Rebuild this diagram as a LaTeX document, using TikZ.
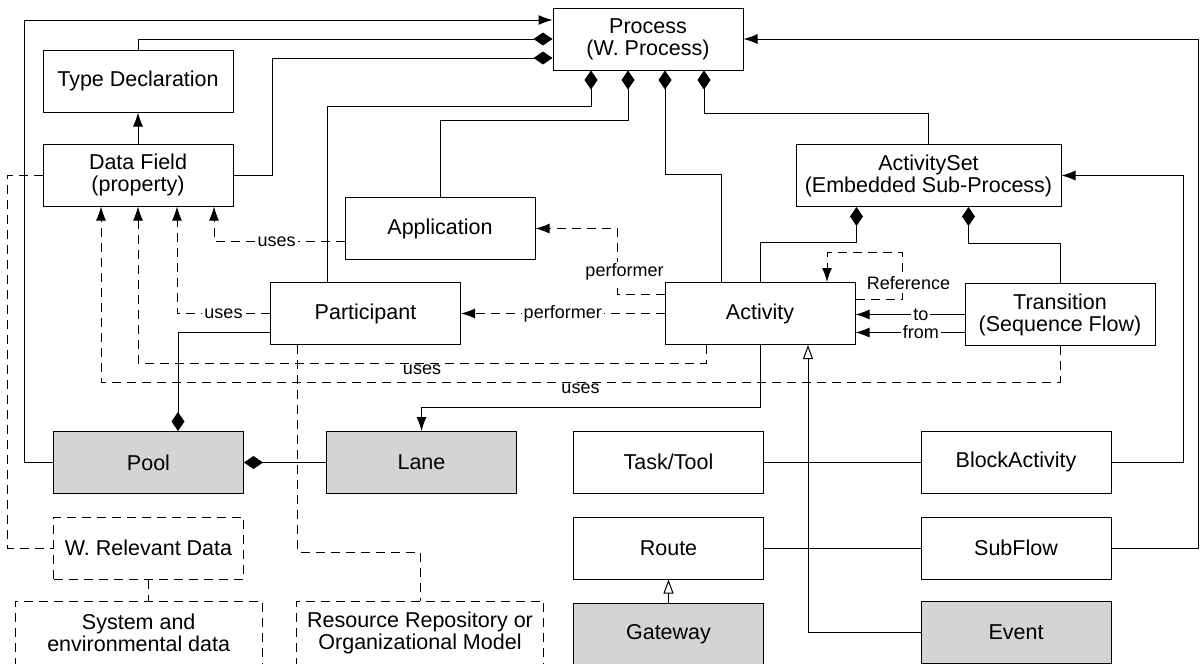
\documentclass[tikz,border=0pt]{standalone}
\usepackage{fontspec}
\setmainfont{Liberation Sans}
\usetikzlibrary{arrows.meta}
\tikzset{>={Latex[length=14pt,width=10pt]}}
\definecolor{shade}{gray}{0.83}

\begin{document}
\begin{tikzpicture}[x=1pt,y=-1pt,line width=1pt,
  box/.style={draw,minimum width=190pt,minimum height=62pt,inner sep=0pt,align=center,font=\fontsize{21.5}{22}\selectfont},
  grey/.style={box,fill=shade},
  dashline/.style={dash pattern=on 9pt off 6pt},
  ghost/.style={box,dashline},
  comp/.style={-{Diamond[length=19pt,width=13pt]}},
  gen/.style={-{Triangle[open,length=14pt,width=10pt]}},
  uses/.style={dashline,->},
  lab/.style={font=\fontsize{18}{19}\selectfont,fill=white,inner sep=2pt}]
  \useasboundingbox (0,0) rectangle (1203,664);
  \clip (0,0) rectangle (1203,664);

  \node[box] (proc) at (648,39) {Process\\(W. Process)};
  \node[box] (typ) at (138,81) {Type Declaration};
  \node[box] (df) at (138,175) {Data Field\\(property)};
  \node[box] (app) at (440,228.5) {Application};
  \node[box] (part) at (365.5,313.5) {Participant};
  \node[box] (act) at (760,313.5) {Activity};
  \node[box,minimum width=265pt] (aset) at (928.5,175.5) {ActivitySet\\(Embedded Sub-Process)};
  \node[box] (trans) at (1060,314.5) {Transition\\(Sequence Flow)};
  \node[grey] (pool) at (148.5,462.5) {Pool};
  \node[grey] (lane) at (421.5,462.5) {Lane};
  \node[box] (task) at (668.5,462) {Task/Tool};
  \node[box] (block) at (1016,462) {BlockActivity};
  \node[box] (route) at (668.5,548) {Route};
  \node[box] (sub) at (1016,548) {SubFlow};
  \node[grey] (gate) at (668.5,634) {Gateway};
  \node[grey] (event) at (1016,632) {Event};
  \node[ghost] (wrd) at (148.5,548) {W. Relevant Data};
  \node[ghost,minimum width=247pt,minimum height=64pt] (sys) at (138.7,633) {System and\\environmental data};
  \node[ghost,minimum width=247pt,minimum height=64pt] (res) at (420,633) {Resource Repository or\\Organizational Model};

  \draw[->] (pool.west) -- ++(-29,0) |- ([yshift=19pt]proc.west);
  \draw[comp] (typ.north) |- (proc.west);
  \draw[comp] (df.east) -- ++(39,0) |- ([yshift=-19pt]proc.west);
  \draw[->] (df) -- (typ);
  \draw[comp] ([xshift=-38pt]part.north) -- ++(0,-176) -| ([xshift=-57pt]proc.south);
  \draw[comp] (app.north) -- ++(0,-77) -| ([xshift=-20pt]proc.south);
  \draw[comp] ([xshift=-39pt]act.north) -- ++(0,-108) -| ([xshift=17pt]proc.south);
  \draw[comp] (aset.north) -- ++(0,-31) -| ([xshift=56pt]proc.south);
  \draw[comp] (act.north) -- ++(0,-40) -| ([xshift=-72pt]aset.south);
  \draw[comp] (trans.north) -- ++(0,-40) -| ([xshift=40pt]aset.south);
  \draw[->] (block.east) -- ++(72,0) |- (aset.east);
  \draw[->] (sub.east) -- ++(87,0) |- (proc.east);
  \draw (task) -- (block);
  \draw (route) -- (sub);
  \draw[gen] (event.west) -| ([xshift=48pt]act.south);
  \draw[gen] (gate) -- (route);
  \draw[->] (act.south) -- ++(0,62) -| (lane.north);
  \draw[comp] (lane) -- (pool);
  \draw[comp] ([yshift=-19pt]part.west) -| ([xshift=29.5pt]pool.north);

  \draw[uses] ([yshift=-13pt]app.west) -| node[lab,pos=0.26] {uses} ([xshift=76pt]df.south);
  \draw[uses] (part.west) -| node[lab,pos=0.25] {uses} ([xshift=39pt]df.south);
  \draw[uses] ([xshift=-54pt]act.south) -- ++(0,18) -| node[lab,pos=0.25,below,inner sep=1pt] {uses} (df.south);
  \draw[uses] (trans.south) -- ++(0,36) -| node[lab,pos=0.25,below,inner sep=1pt] {uses} ([xshift=-37pt]df.south);
  \draw[dashline] (df.west) -- ++(-35,0) |- (wrd.west);
  \draw[dashline] (wrd.south) -- (wrd.south |- sys.north);
  \draw[dashline] ([xshift=-68pt]part.south) -- ++(0,207) -| (res.north);
  \draw[uses] (act.west) -- node[lab] {performer} (part.east);
  \draw[uses] ([yshift=19pt]act.west) -- ++(-47,0) |- node[lab,pos=0.17,xshift=7pt] {performer} (app.east);
  \draw[uses] ([yshift=14pt]act.east) -- ++(47,0) -- node[lab,pos=0.35,xshift=6pt] {Reference} ++(0,-47) -| ([xshift=67pt]act.north);
  \coordinate (fr) at ([yshift=-18pt]trans.west);
  \draw[->] (trans.west) -- node[lab,pos=0.4] {to} (trans.west -| act.east);
  \draw[->] (fr) -- node[lab,pos=0.4] {from} (fr -| act.east);
\end{tikzpicture}
\end{document}
